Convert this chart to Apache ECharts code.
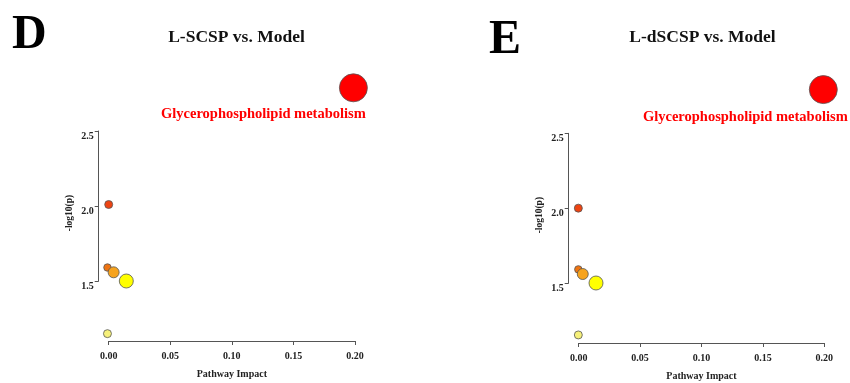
<!DOCTYPE html>
<html>
<head>
<meta charset="utf-8">
<script src="https://cdn.jsdelivr.net/npm/echarts@6/dist/echarts.min.js"></script>
<style>
html,body{margin:0;padding:0;background:#fff;}
#chart{width:850px;height:383px;}
</style>
</head>
<body>
<div id="chart"></div>
<script>
// ---- Data ----
const panelLetters = ['D', 'E'];
const panelTitles = ['L-SCSP vs. Model', 'L-dSCSP vs. Model'];
const xTickValues = [0, 0.05, 0.10, 0.15, 0.20];
const yTickValues = [1.5, 2.0, 2.5];
const xAxisTitle = 'Pathway Impact';
const yAxisTitle = '-log10(p)';
const pathwayLabels = ['', '', '', '', '', 'Glycerophospholipid metabolism'];
// Panel D
const impactD = [0.000, -0.001, 0.004, 0.0143, -0.001, 0.1987];
const logpD   = [2.01, 1.59, 1.558, 1.50, 1.149, 2.788];
const bubbleD = [8, 7.5, 11, 14, 8, 28];
// Panel E
const impactE = [-0.0003, -0.0003, 0.0033, 0.0141, -0.0003, 0.1992];
const logpE   = [2.00, 1.591, 1.56, 1.50, 1.153, 2.792];
const bubbleE = [8, 7.5, 11, 14, 8, 28];

// ---- Styles ----
const pointColors = ['#ee4412', '#ee7412', '#f6a31e', '#ffff00', '#f6f07a', '#ff0000'];
const serif = '"Liberation Serif", "Times New Roman", serif';

function makeData(xs, ys, sizes) {
  return xs.map((x, i) => ({ value: [x, ys[i], sizes[i]], name: pathwayLabels[i] }));
}

const grids = [
  { left: 108.7, top: 131, width: 246.3, height: 150 },
  { left: 578.7, top: 133.3, width: 245.6, height: 149.7 }
];

const axisLineStyle = { color: '#555', width: 1 };

const xAxes = grids.map((g, i) => ({
  type: 'value', gridIndex: i,
  min: xTickValues[0], max: xTickValues[xTickValues.length - 1], interval: xTickValues[1] - xTickValues[0],
  offset: 60,
  axisLine: { show: true, onZero: false, lineStyle: axisLineStyle },
  axisTick: { show: true, length: 4, lineStyle: axisLineStyle },
  splitLine: { show: false },
  axisLabel: { formatter: v => v.toFixed(2), fontFamily: serif, fontWeight: 'bold', fontSize: 10, color: '#222', margin: 10 },
  name: xAxisTitle, nameLocation: 'middle', nameGap: 28,
  nameTextStyle: { fontFamily: serif, fontWeight: 'bold', fontSize: 10, color: '#222', verticalAlign: 'top' }
}));

const yAxes = grids.map((g, i) => ({
  type: 'value', gridIndex: i,
  min: yTickValues[0], max: yTickValues[yTickValues.length - 1], interval: yTickValues[1] - yTickValues[0],
  offset: 10,
  axisLine: { show: true, onZero: false, lineStyle: axisLineStyle },
  axisTick: { show: true, length: 4, lineStyle: axisLineStyle },
  splitLine: { show: false },
  axisLabel: { formatter: v => v.toFixed(1), fontFamily: serif, fontWeight: 'bold', fontSize: 10, color: '#222', margin: 5, verticalAlign: 'top' },
  name: yAxisTitle, nameLocation: 'middle', nameGap: 24, nameRotate: 90,
  nameTextStyle: { fontFamily: serif, fontWeight: 'bold', fontSize: 9.5, color: '#222', padding: [0, 14, 0, 0] }
}));

const labelOffsets = [[-90, 26.5], [-78, 28]];

const series = [[impactD, logpD, bubbleD], [impactE, logpE, bubbleE]].map((d, i) => ({
  type: 'scatter', xAxisIndex: i, yAxisIndex: i, clip: false,
  data: makeData(d[0], d[1], d[2]),
  symbolSize: v => v[2],
  itemStyle: {
    color: p => pointColors[p.dataIndex],
    borderColor: '#555', borderWidth: 0.8, opacity: 1
  },
  label: {
    show: true, position: 'inside', offset: labelOffsets[i],
    formatter: p => p.name,
    fontFamily: serif, fontWeight: 'bold', fontSize: 14.5, color: '#ff0000'
  },
  emphasis: { disabled: true }
}));

const titles = [
  { text: panelLetters[0], left: 7, top: 7, textStyle: { fontFamily: serif, fontWeight: 'bold', fontSize: 48, color: '#000' } },
  { text: panelTitles[0], left: 231.5, top: 23, textAlign: 'center', textStyle: { fontFamily: serif, fontWeight: 'bold', fontSize: 17.5, color: '#111' } },
  { text: panelLetters[1], left: 484, top: 12, textStyle: { fontFamily: serif, fontWeight: 'bold', fontSize: 48, color: '#000' } },
  { text: panelTitles[1], left: 697.5, top: 23, textAlign: 'center', textStyle: { fontFamily: serif, fontWeight: 'bold', fontSize: 17.5, color: '#111' } }
];

const chart = echarts.init(document.getElementById('chart'), null, { renderer: 'canvas' });
chart.setOption({
  animation: false,
  backgroundColor: '#fff',
  title: titles,
  grid: grids,
  xAxis: xAxes,
  yAxis: yAxes,
  series: series
});
</script>
</body>
</html>
